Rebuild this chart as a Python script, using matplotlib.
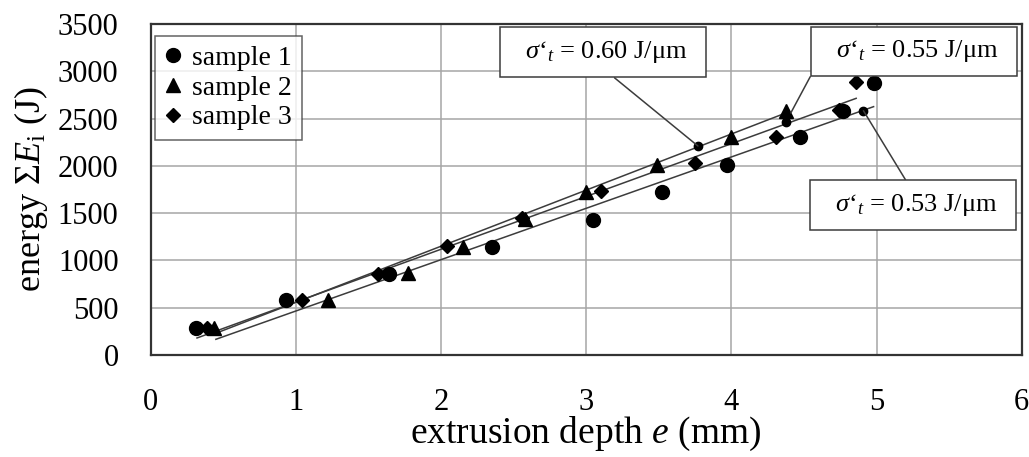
import matplotlib
matplotlib.use("Agg")
import matplotlib.pyplot as plt

# data
s1_x = [0.31, 0.93, 1.64, 2.35, 3.05, 3.52, 3.97, 4.47, 4.77, 4.98]
s1_y = [285, 580, 860, 1145, 1430, 1725, 2010, 2305, 2585, 2875]
s2_x = [0.44, 1.22, 1.77, 2.15, 2.58, 3.00, 3.49, 4.00, 4.38]
s2_y = [285, 580, 865, 1145, 1440, 1725, 2010, 2305, 2575]
s3_x = [0.39, 1.04, 1.57, 2.04, 2.56, 3.10, 3.75, 4.31, 4.74, 4.86]
s3_y = [285, 580, 860, 1150, 1445, 1735, 2025, 2305, 2590, 2885]

# trend lines (start / end) and their labels
fit_labels = ["0.60", "0.55", "0.53"]
fit_x = [[0.45, 4.37], [0.32, 4.86], [0.45, 4.98]]
fit_y = [[230, 2556], [180, 2714], [166, 2626]]

# leader anchor dots
dot_x = [3.77, 4.38, 4.91]
dot_y = [2210, 2467, 2583]

plt.rcParams["font.family"] = ["Liberation Serif", "DejaVu Serif"]
plt.rcParams["mathtext.fontset"] = "custom"
plt.rcParams["mathtext.rm"] = "Liberation Serif"
plt.rcParams["mathtext.it"] = "Liberation Serif:italic"

fig = plt.figure(figsize=(10.29, 4.57), dpi=100)
ax = fig.add_axes([0.1463, 0.2232, 0.8466, 0.7243])

ax.grid(True, color="#a6a6a6", linewidth=1.1)
ax.set_axisbelow(True)

for fx, fy in zip(fit_x, fit_y):
    ax.plot(fx, fy, color="#3c3c3c", linewidth=1.1, zorder=2)

ax.plot(s1_x, s1_y, "o", color="black", markersize=10, label="sample 1", zorder=3)
ax.plot(s2_x, s2_y, "^", color="black", markersize=10, label="sample 2", zorder=3)
ax.plot(s3_x, s3_y, "D", color="black", markersize=7, label="sample 3", zorder=3)
ax.plot(dot_x, dot_y, "o", color="black", markersize=6, zorder=3)

box = dict(boxstyle="square,pad=0.45", facecolor="white", edgecolor="#3c3c3c", linewidth=1.1)
line = dict(arrowstyle="-", color="#3c3c3c", linewidth=1.1, shrinkA=0, shrinkB=0)
fmt = "  $\\sigma$\u2018$_{t}$ = %s J/μm  "

ax.annotate(fmt % fit_labels[0], xy=(dot_x[0], dot_y[0]),
            xytext=(3.116, 3200), ha="center", va="center", fontsize=19,
            bbox=box, arrowprops=dict(line, relpos=(0.48, 0)))
ax.annotate(fmt % fit_labels[1], xy=(4.41, 2560),
            xytext=(5.258, 3210), ha="center", va="center", fontsize=19,
            bbox=box, arrowprops=dict(line, relpos=(0, 0.42)))
ax.annotate(fmt % fit_labels[2], xy=(dot_x[2], dot_y[2]),
            xytext=(5.251, 1586), ha="center", va="center", fontsize=19,
            bbox=box, arrowprops=dict(line, relpos=(0.5, 1)))

ax.set_xlim(0, 6)
ax.set_ylim(0, 3500)
ax.set_xticks(range(0, 7))
ax.set_yticks(range(0, 3501, 500))
ax.tick_params(length=0, labelsize=22)
ax.tick_params(axis="x", pad=24)
ax.tick_params(axis="y", pad=23)
for sp in ax.spines.values():
    sp.set_color("#333333")
    sp.set_linewidth(1.6)

ax.set_xlabel(r"extrusion depth $e$ (mm)", fontsize=27, labelpad=-2)
ax.set_ylabel(r"energy $\mathit{\Sigma} E_{\rm i}$ (J)", fontsize=26, labelpad=6)

leg = ax.legend(loc="upper left", bbox_to_anchor=(0.005, 0.964), borderaxespad=0,
                fontsize=20, frameon=True, fancybox=False,
                handlelength=0.6, handletextpad=0.4, borderpad=0.35,
                labelspacing=0.15, edgecolor="#3c3c3c")
leg.get_frame().set_linewidth(1.1)

fig.savefig("out.png", dpi=100)
